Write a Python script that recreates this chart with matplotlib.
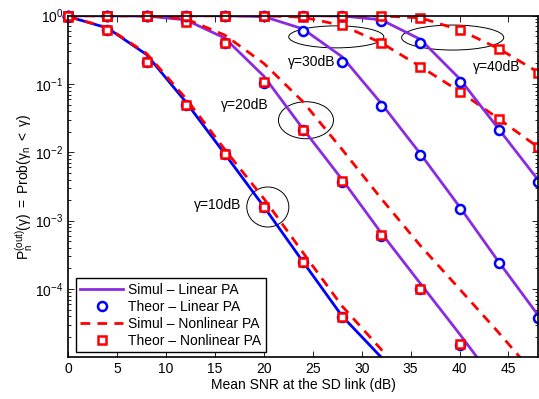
import numpy as np
import matplotlib.pyplot as plt
from matplotlib.patches import Ellipse
from matplotlib.ticker import LogLocator, NullFormatter, FixedLocator

plt.rcParams['font.family'] = ['Liberation Sans', 'DejaVu Sans']
plt.rcParams['mathtext.fontset'] = 'custom'
plt.rcParams['mathtext.rm'] = 'Liberation Sans'
plt.rcParams['mathtext.it'] = 'Liberation Sans:italic'
plt.rcParams['font.size'] = 10

nan = np.nan

# Mean SNR at the SD link (dB)
snr = [0, 4, 8, 12, 16, 20, 24, 28, 32, 36, 40, 44, 48]

# outage probability, gamma = 10 dB
simul_lin_10 = [0.97, 0.66, 0.27, 0.055, 0.0095, 0.0016, 2.5e-4, 4.0e-5, 1.0e-5, 1.5e-6, nan, nan, nan]
theor_lin_10 = [0.97, 0.62, 0.21, 0.05, 0.0093, 0.0016, 2.5e-4, 3.9e-5, nan, nan, nan, nan, nan]
simul_nl_10 = [0.97, 0.67, 0.28, 0.062, 0.011, 0.0021, 3.4e-4, 5.6e-5, 1.3e-5, 2.0e-6, nan, nan, nan]
theor_nl_10 = [0.97, 0.62, 0.21, 0.05, 0.0093, 0.0016, 2.5e-4, 3.9e-5, nan, nan, nan, nan, nan]

# gamma = 20 dB
simul_lin_20 = [1, 1, 0.99, 0.87, 0.47, 0.13, 0.022, 0.004, 6.6e-4, 1.2e-4, 2.2e-5, 3.8e-6, nan]
theor_lin_20 = [1, 1, 1, 0.85, 0.40, 0.105, 0.021, 0.0037, 6.0e-4, 1.0e-4, 1.5e-5, nan, nan]
simul_nl_20 = [1, 1, 1, 0.9, 0.52, 0.2, 0.055, 0.011, 0.0021, 4.3e-4, 1.0e-4, 2.3e-5, 5.0e-6]
theor_nl_20 = [1, 1, 1, 0.82, 0.40, 0.107, 0.021, 0.0038, 6.2e-4, 1.0e-4, 1.55e-5, nan, nan]

# gamma = 30 dB
simul_lin_30 = [1, 1, 1, 1, 1, 0.97, 0.64, 0.25, 0.052, 0.0095, 0.0016, 2.5e-4, 4.2e-5]
theor_lin_30 = [1, 1, 1, 1, 1, 0.99, 0.60, 0.21, 0.048, 0.0091, 0.0015, 2.4e-4, 3.8e-5]
simul_nl_30 = [1, 1, 1, 1, 1, 1, 0.95, 0.72, 0.40, 0.18, 0.078, 0.031, 0.012]
theor_nl_30 = [1, 1, 1, 1, 1, 1, 0.97, 0.74, 0.40, 0.18, 0.077, 0.031, 0.012]

# gamma = 40 dB
simul_lin_40 = [1, 1, 1, 1, 1, 1, 1, 0.99, 0.87, 0.45, 0.12, 0.022, 0.004]
theor_lin_40 = [1, 1, 1, 1, 1, 1, 1, 1, 0.83, 0.40, 0.108, 0.021, 0.0037]
simul_nl_40 = [1, 1, 1, 1, 1, 1, 1, 1, 0.99, 0.93, 0.62, 0.33, 0.15]
theor_nl_40 = [1, 1, 1, 1, 1, 1, 1, 1, 1, 0.93, 0.62, 0.33, 0.145]

thresholds = ['10', '20', '30', '40']
simul_lin = [simul_lin_10, simul_lin_20, simul_lin_30, simul_lin_40]
theor_lin = [theor_lin_10, theor_lin_20, theor_lin_30, theor_lin_40]
simul_nl = [simul_nl_10, simul_nl_20, simul_nl_30, simul_nl_40]
theor_nl = [theor_nl_10, theor_nl_20, theor_nl_30, theor_nl_40]

# annotation: (label x, label log10 y, ellipse x, ellipse log10 y, width px, height px)
notes = [
    (12.8, -2.77, 20.4, -2.80, 42, 40),
    (15.6, -1.31, 24.3, -1.53, 55, 37),
    (22.5, -0.68, 27.4, -0.31, 95, 22),
    (41.4, -0.75, 39.3, -0.32, 102, 25),
]

purple = '#8A2BE2'
fig = plt.figure(figsize=(5.39, 3.99), dpi=100)
ax = fig.add_axes([0.1267, 0.1045, 0.8710, 0.8562])

handles = []
for i, g in enumerate(thresholds):
    lc = 'blue' if g == '10' else purple
    h1, = ax.semilogy(snr, simul_lin[i], '-', color=lc, lw=2.0)
    h2, = ax.semilogy(snr, theor_lin[i], 'o', color='blue', mfc='white', mew=1.8, ms=6.5, clip_on=False)
    h3, = ax.semilogy(snr, simul_nl[i], '--', color='red', lw=2.0, dashes=(3.5, 2.6))
    h4, = ax.semilogy(snr, theor_nl[i], 's', color='red', mfc='white', mew=1.8, ms=6, clip_on=False)
    if g == '20':
        handles = [h1, h2, h3, h4]

ax.set_xlim(0, 48)
ax.set_ylim(1e-5, 1)
ax.set_xticks(range(0, 50, 5))
ax.yaxis.set_major_locator(FixedLocator([1e-4, 1e-3, 1e-2, 1e-1, 1]))
ax.yaxis.set_minor_locator(LogLocator(base=10, subs=np.arange(2, 10), numticks=10))
ax.yaxis.set_minor_formatter(NullFormatter())
ax.tick_params(which='both', direction='in', top=True, right=True, labelsize=10, width=0.6)
ax.tick_params(which='major', length=4)
ax.tick_params(which='minor', length=2.2)
for s in ax.spines.values():
    s.set_linewidth(1.2)

ax.set_xlabel('Mean SNR at the SD link (dB)', labelpad=1)
ax.set_ylabel(r'$\mathrm{P_n^{(out)}(γ)\ =\ Prob(γ_n\ <\ γ)}$', labelpad=0)

# ellipses drawn in axes fraction so they stay elliptic on the log axis
w_ax = 469.0
h_ax = 341.6
to_axes = ax.transData + ax.transAxes.inverted()
for (g, n) in zip(thresholds, notes):
    tx, ty, ex, ey, ew, eh = n
    ax.text(tx, 10 ** ty, 'γ=' + g + 'dB', ha='left', va='center', fontsize=10)
    cx, cy = to_axes.transform((ex, 10 ** ey))
    ax.add_patch(Ellipse((cx, cy), ew / w_ax, eh / h_ax, transform=ax.transAxes,
                         fill=False, edgecolor='black', lw=0.7))

leg = ax.legend(handles, ['Simul – Linear PA', 'Theor – Linear PA',
                          'Simul – Nonlinear PA', 'Theor – Nonlinear PA'],
                loc='lower left', bbox_to_anchor=(0.017, 0.016), fancybox=False,
                edgecolor='black', framealpha=1, fontsize=10, labelspacing=0.22,
                handlelength=3.1, handletextpad=0.35, borderpad=0.3, borderaxespad=0)
leg.get_frame().set_linewidth(1.0)

fig.savefig('out.png', dpi=100)
